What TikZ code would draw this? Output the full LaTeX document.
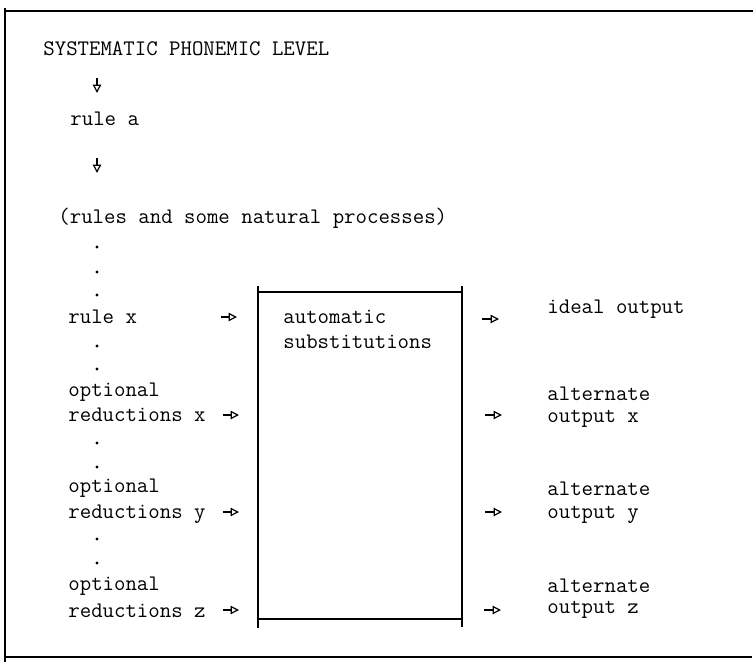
\documentclass[tikz,border=0pt]{standalone}
\usetikzlibrary{arrows.meta, positioning}

\begin{document}
\begin{tikzpicture}[
    x=0.5pt, y=-0.5pt,
    mytext/.style={anchor=base west, inner sep=0pt, font=\fontsize{11.1}{12}\selectfont\ttfamily},
    myarrow/.style={-{Triangle[open, length=4.2pt, width=4.2pt, line width=0.6pt]}, line width=0.6pt},
    myline/.style={line width=0.7pt}
]
\useasboundingbox (0,0) rectangle (756,664);

% Frame
\draw[myline] (5,8) -- (5,662);
\draw[myline] (5,11) -- (753,11);
\draw[myline] (5,657) -- (752,657);

% Box
\draw[myline] (258,286) -- (258,628);
\draw[myline] (462,286) -- (462,627);
\draw[myline] (258,292) -- (462,292);
\draw[myline] (258,619) -- (462,619);

% Left column
\node[mytext] (Level) at (43,55) {SYSTEMATIC PHONEMIC LEVEL};
\node[mytext] (RuleA) at (70,125) {rule a};
\node[mytext] (Processes) at (58,223) {(rules and some natural processes)};
\node[mytext] (RuleX) at (68,323) {rule x};
\node[mytext] (OptX) at (68,396) {optional};
\node[mytext] (RedX) at (68,421) {reductions x};
\node[mytext] (OptY) at (68,492) {optional};
\node[mytext] (RedY) at (68,518) {reductions y};
\node[mytext] (OptZ) at (68,590) {optional};
\node[mytext] (RedZ) at (68,617) {reductions z};

% Box text
\node[mytext] (Auto) at (283,323) {automatic};
\node[mytext] (Subst) at (283,348) {substitutions};

% Right column
\node[mytext] (Ideal) at (547,313) {ideal output};
\node[mytext] (AltX) at (547,400) {alternate};
\node[mytext] (OutX) at (547,422) {output x};
\node[mytext] (AltY) at (547,495) {alternate};
\node[mytext] (OutY) at (547,518) {output y};
\node[mytext] (AltZ) at (547,592) {alternate};
\node[mytext] (OutZ) at (547,613) {output z};

% Dots
\foreach \y in {247,272,295,346,369,443,467,539,563}
    \fill (97,\y) circle (0.85pt);

% Arrows
\coordinate (DownA) at (97,78);
\coordinate (DownB) at (97,158);
\draw[myarrow] (DownA) -- ++(0,15);
\draw[myarrow] (DownB) -- ++(0,15);

\coordinate (InX) at (221,317);
\coordinate (InRX) at (223,415);
\coordinate (InRY) at (223,512);
\coordinate (InRZ) at (223,610);
\foreach \c in {InX, InRX, InRY, InRZ}
    \draw[myarrow] (\c) -- ++(16,0);

\coordinate (OutI) at (482,319);
\coordinate (OutAX) at (485,415);
\coordinate (OutAY) at (485,512);
\coordinate (OutAZ) at (484,610);
\foreach \c in {OutI, OutAX, OutAY, OutAZ}
    \draw[myarrow] (\c) -- ++(17,0);

\end{tikzpicture}
\end{document}
